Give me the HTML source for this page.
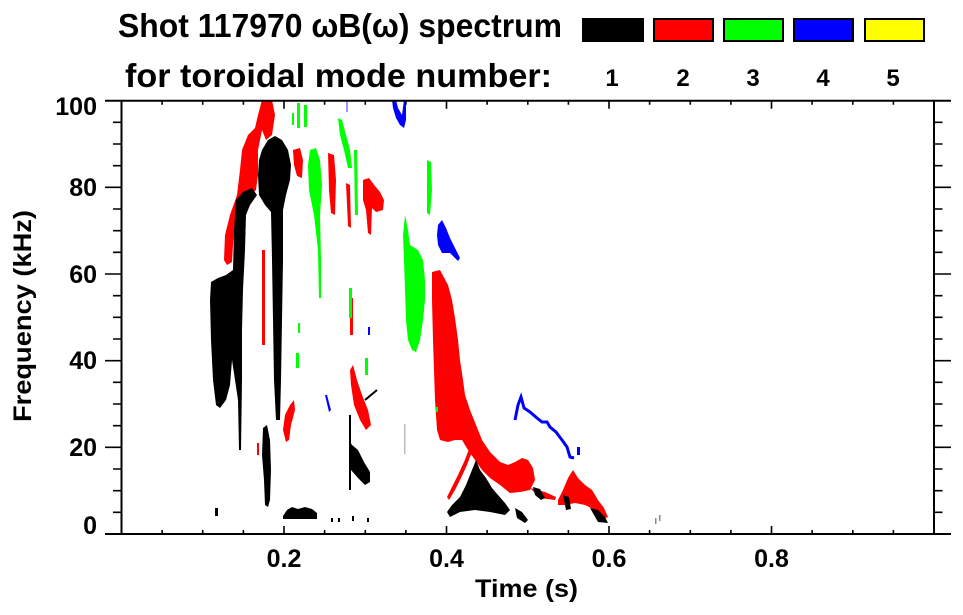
<!DOCTYPE html>
<html><head><meta charset="utf-8"><style>
html,body{margin:0;padding:0;background:#fff;}
svg{display:block;}
text{font-family:"Liberation Sans",Arial,sans-serif;font-weight:bold;fill:#000;}
</style></head><body>
<svg width="963" height="615" viewBox="0 0 963 615" xmlns="http://www.w3.org/2000/svg">
<rect width="963" height="615" fill="#fff"/>
<!-- Title -->
<text x="118" y="37" font-size="33" textLength="444" lengthAdjust="spacingAndGlyphs">Shot 117970 ωB(ω) spectrum</text>
<text x="125" y="87" font-size="33" textLength="427" lengthAdjust="spacingAndGlyphs">for toroidal mode number:</text>
<g stroke="#000" stroke-width="2">
<rect x="583" y="19" width="60" height="22" fill="#000"/>
<rect x="654" y="19" width="59" height="22" fill="#ff0000"/>
<rect x="724" y="19" width="59" height="22" fill="#00ff00"/>
<rect x="794" y="19" width="59" height="22" fill="#0000ff"/>
<rect x="865" y="19" width="59" height="22" fill="#ffff00"/>
</g>
<g font-size="24" text-anchor="middle">
<text x="612" y="86">1</text><text x="683" y="86">2</text><text x="753" y="86">3</text><text x="823" y="86">4</text><text x="893" y="86">5</text>
</g>

<!-- DATA -->
<g fill="#ff0000">
<path d="M262,100 L272,100 L275,115 L272,135 L266,140 L262,130 L258,150 L258,175 L256,190 L250,196 L243,210 L238,215 L235,228 L233,245 L232,262 L227,265 L224,260 L225,235 L230,215 L237,195 L240,170 L242,150 L248,135 L255,128 L258,115 Z"/>
<rect x="262" y="250" width="3" height="95"/>
<path d="M293,150 L300,148 L303,160 L302,178 L297,176 L294,165 Z"/>
<path d="M328,153 L334,155 L336,180 L335,215 L331,213 L329,190 Z"/>
<path d="M346,183 L350,185 L351,228 L348,226 Z"/>
<path d="M363,180 L369,178 L375,186 L380,192 L384,200 L383,210 L376,212 L372,208 L371,235 L368,233 L366,210 L363,200 Z"/>
<path d="M286,442 L283,430 L285,415 L290,405 L294,400 L295,410 L291,425 L289,440 Z"/>
<rect x="350" y="298" width="3" height="37"/>
<path d="M353,365 L357,380 L362,395 L368,410 L371,425 L366,430 L360,420 L354,405 L351,385 L350,370 Z"/>
<path d="M432,272 L440,270 L448,285 L452,300 L455,318 L458,340 L460,360 L463,380 L465,395 L470,410 L476,425 L482,440 L490,452 L500,462 L508,465 L515,462 L522,458 L528,460 L533,468 L535,480 L530,490 L520,492 L510,493 L500,485 L490,478 L482,470 L475,460 L468,450 L462,440 L455,440 L448,442 L440,440 L437,430 L435,400 L434,370 L433,340 L432,300 Z"/>
<path d="M447,497 L452,487 L458,475 L464,462 L470,447 L473,449 L467,465 L461,478 L455,490 L449,500 Z"/>
<path d="M530,488 L545,492 L556,497 L555,500 L540,498 Z"/>
<path d="M558,500 L563,490 L568,478 L573,470 L578,478 L585,485 L592,490 L598,500 L604,508 L608,517 L603,519 L595,510 L585,505 L575,503 L565,505 L558,505 Z"/>
<rect x="257" y="443" width="2" height="12"/>
</g>
<g fill="#00ff00">
<rect x="297" y="103" width="3" height="25"/>
<rect x="292" y="113" width="2" height="12"/>
<rect x="304" y="105" width="3" height="22"/>
<path d="M310,150 L316,148 L320,160 L322,185 L320,215 L321,260 L321,298 L319,298 L318,250 L314,215 L309,190 L308,165 Z"/>
<path d="M338,118 L342,120 L346,135 L350,150 L352,168 L348,168 L344,150 L340,135 Z"/>
<path d="M354,150 L357,150 L358,215 L355,215 Z"/>
<rect x="349" y="288" width="3" height="30"/>
<path d="M405,215 L408,230 L410,245 L418,250 L423,260 L425,280 L425,300 L423,320 L420,340 L416,352 L412,350 L408,340 L406,320 L405,290 L404,260 L403,235 Z"/>
<path d="M427,160 L431,162 L432,190 L430,215 L427,213 Z"/>
<rect x="296" y="353" width="3" height="15"/>
<rect x="298" y="323" width="2" height="10"/>
<rect x="365" y="358" width="3" height="17"/>
<rect x="436" y="407" width="2" height="5"/>
</g>
<g fill="#0000ff">
<path d="M392,100 L396,100 L398,108 L402,115 L404,100 L406,100 L406,120 L404,128 L400,125 L396,118 L393,108 Z"/>
<path d="M438,225 L442,220 L446,228 L450,238 L455,248 L460,258 L458,261 L450,253 L442,253 L438,245 L437,235 Z"/>
<path d="M325,395 L327,395 L331,410 L329,412 Z"/>
<rect x="368" y="327" width="2" height="8"/>
<rect x="346" y="100" width="2" height="12" fill="#9999ff"/>
</g>
<polyline fill="none" stroke="#0000ff" stroke-width="3" points="515,420 518,405 521,397 524,408 530,412 537,418 542,422 547,422 550,427 556,432 562,440 567,447 570,457 574,458"/>
<rect x="577" y="447" width="3" height="8" fill="#0000ff"/>
<g fill="#000">
<path d="M236,200 L243,192 L252,188 L257,195 L250,205 L246,215 L245,250 L243,290 L242,330 L242,380 L241,450 L239,450 L238,400 L232,360 L230,385 L226,400 L220,408 L216,405 L213,380 L211,340 L210,300 L211,282 L218,278 L226,275 L233,270 L234,230 Z"/>
<path d="M262,150 L268,140 L275,136 L282,140 L288,150 L291,165 L290,180 L286,195 L283,210 L283,260 L282,320 L281,380 L280,420 L276,420 L274,380 L273,320 L272,260 L271,212 L265,205 L259,195 L258,175 L259,160 Z"/>
<path d="M263,428 L267,425 L270,440 L271,470 L270,500 L268,507 L265,505 L264,480 L262,455 Z"/>
<path d="M283,516 L287,510 L292,507 L298,509 L305,507 L312,509 L317,513 L317,519 L283,519 Z"/>
<path d="M349,440 L352,445 L358,450 L364,462 L370,472 L370,482 L365,485 L358,478 L351,470 L350,460 Z"/>
<rect x="349" y="415" width="2" height="75"/>
<polyline fill="none" stroke="#000" stroke-width="2" points="365,400 371,395 377,390"/>
<path d="M447,512 L452,505 L460,497 L466,485 L472,470 L476,460 L480,470 L486,478 L492,488 L498,495 L505,503 L510,510 L505,515 L490,512 L475,510 L460,512 L450,517 Z"/>
<path d="M515,508 L522,512 L528,520 L525,523 L517,518 Z"/>
<path d="M533,487 L540,489 L545,498 L541,500 L535,495 Z"/>
<path d="M563,495 L569,497 L571,509 L566,510 Z"/>
<path d="M590,508 L598,510 L605,517 L608,523 L598,522 Z"/>
<rect x="215" y="508" width="3" height="8"/>
<rect x="331" y="518" width="2" height="4"/><rect x="338" y="518" width="2" height="4"/><rect x="352" y="516" width="2" height="5"/><rect x="367" y="518" width="2" height="4"/>
</g>
<g fill="#888">
<rect x="655" y="518" width="1.5" height="6"/><rect x="659" y="515" width="1.5" height="6"/>
<rect x="404" y="424" width="1.5" height="30" fill="#bbb"/>
</g>

<!-- AXES -->
<g stroke="#000" stroke-width="2" fill="none">
<line x1="105" y1="100.7" x2="951" y2="100.7"/>
<line x1="105" y1="534" x2="951" y2="534"/>
<line x1="121.5" y1="100.7" x2="121.5" y2="534"/>
<line x1="934" y1="100.7" x2="934" y2="534"/>
</g>
<g stroke="#000" stroke-width="1.6">
<path d="
M113,512.3H121.5 M113,490.7H121.5 M113,469H121.5 M105,447.3H121.5
M113,425.7H121.5 M113,404H121.5 M113,382.3H121.5 M105,360.7H121.5
M113,339H121.5 M113,317.3H121.5 M113,295.7H121.5 M105,274H121.5
M113,252.3H121.5 M113,230.7H121.5 M113,209H121.5 M105,187.3H121.5
M113,165.7H121.5 M113,144H121.5 M113,122.3H121.5
M934,512.3H942.5 M934,490.7H942.5 M934,469H942.5 M934,447.3H951
M934,425.7H942.5 M934,404H942.5 M934,382.3H942.5 M934,360.7H951
M934,339H942.5 M934,317.3H942.5 M934,295.7H942.5 M934,274H951
M934,252.3H942.5 M934,230.7H942.5 M934,209H942.5 M934,187.3H951
M934,165.7H942.5 M934,144H942.5 M934,122.3H942.5
"/>
<path d="
M162.1,534V530 M202.7,534V530 M243.4,534V530 M284,534V526 M324.6,534V530 M365.3,534V530 M405.9,534V530 M446.5,534V526
M487.1,534V530 M527.8,534V530 M568.4,534V530 M609,534V526 M649.6,534V530 M690.3,534V530 M730.9,534V530 M771.5,534V526
M812.1,534V530 M852.8,534V530 M893.4,534V530
M162.1,100.7V104.7 M202.7,100.7V104.7 M243.4,100.7V104.7 M284,100.7V108.7 M324.6,100.7V104.7 M365.3,100.7V104.7 M405.9,100.7V104.7 M446.5,100.7V108.7
M487.1,100.7V104.7 M527.8,100.7V104.7 M568.4,100.7V104.7 M609,100.7V108.7 M649.6,100.7V104.7 M690.3,100.7V104.7 M730.9,100.7V104.7 M771.5,100.7V108.7
M812.1,100.7V104.7 M852.8,100.7V104.7 M893.4,100.7V104.7
"/>
</g>
<g font-size="25" text-anchor="end">
<text x="97" y="115">100</text>
<text x="97" y="196">80</text>
<text x="97" y="283">60</text>
<text x="97" y="369">40</text>
<text x="97" y="456">20</text>
<text x="97" y="534">0</text>
</g>
<g font-size="25" text-anchor="middle">
<text x="284" y="567">0.2</text>
<text x="446.5" y="567">0.4</text>
<text x="609" y="567">0.6</text>
<text x="771.5" y="567">0.8</text>
</g>
<text x="475" y="597" font-size="25" textLength="103" lengthAdjust="spacingAndGlyphs">Time (s)</text>
<text transform="translate(31,422) rotate(-90)" font-size="25" textLength="212" lengthAdjust="spacingAndGlyphs">Frequency (kHz)</text>
</svg>
</body></html>
